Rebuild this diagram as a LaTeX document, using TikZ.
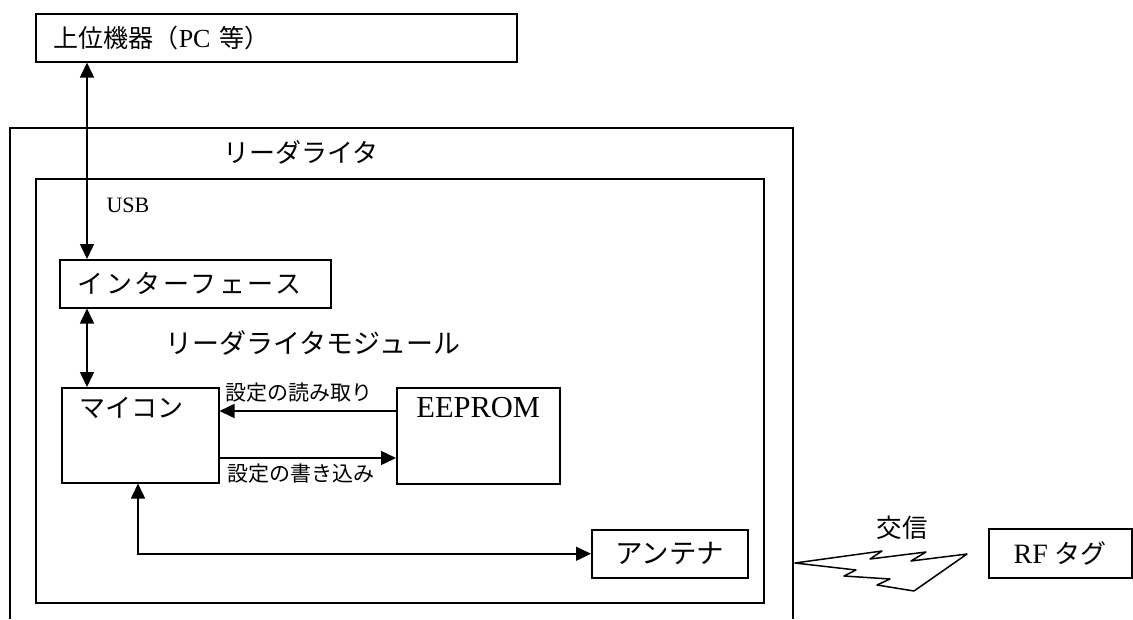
\documentclass[tikz,border=0pt]{standalone}
\usepackage{fontspec}
\setmainfont{Liberation Serif}
\newfontfamily\jp{Noto Sans CJK JP}
\usetikzlibrary{arrows.meta}

\begin{document}
\begin{tikzpicture}[
            x = 1pt, y = -1pt,
            box/.style={draw, rectangle, line width = 1.5pt, anchor = north west, inner sep = 0pt},
            line/.style={line width = 1.5pt},
            arr/.style={line, -{Triangle[length=15pt, width=14pt]}},
            biarr/.style={line, {Triangle[length=15pt, width=14pt]}-{Triangle[length=15pt, width=14pt]}},
            jfont/.style={font=\jp\fontsize{#1}{#1}\selectfont},
            lfont/.style={font=\fontsize{#1}{#1}\selectfont},
            ]
        \useasboundingbox (0,0) rectangle (1133,619);

        \node[box, minimum height=48, text width=445, inner xsep=18, align=left, lfont=26] (host) at (35,13) {{\jp\fontsize{25}{25}\selectfont 上位機器（}PC {\jp\fontsize{25}{25}\selectfont 等）}};

        \draw[line] (10,619) -- (10,128) -- (793,128) -- (793,619);
        \node[jfont=26] (rwlabel) at (301,152) {リーダライタ};
        \node[box, minimum width=728, minimum height=424] (module) at (35,178) {};
        \node[lfont=22] (usb) at (128,205) {USB};
        \node[jfont=27] (modlabel) at (313,343) {リーダライタモジュール};

        \node[box, minimum height=48, text width=235, inner xsep=18, align=left, jfont=26] (iface) at (59,259) {\addfontfeatures{LetterSpace=10}インターフェース};
        \node[box, text width=121, inner xsep=18, align=left, text height=30, text depth=65, jfont=26] (mcu) at (61,387) {マイコン};
        \node[box, minimum width=163, text height=29.5, text depth=66.5, lfont=30.5] (eeprom) at (396,387) {EEPROM};
        \node[box, minimum width=156, minimum height=48, jfont=27.5] (ant) at (591,529) {アンテナ};
        \node[box, minimum width=143, minimum height=49, lfont=28] (tag) at (988,528) {RF {\jp\fontsize{26}{26}\selectfont タグ}};

        \coordinate (usbx) at ([xshift=28pt]iface.north west);
        \draw[biarr] (usbx) -- (usbx |- host.south);
        \draw[biarr] (iface.south -| usbx) -- (mcu.north -| usbx);

        \draw[arr] ([yshift=-24pt]eeprom.north west) -- ([yshift=-24pt]mcu.north east);
        \draw[arr] ([yshift=-71pt]mcu.north east) -- ([yshift=-71pt]eeprom.north west);
        \node[jfont=21] (rdlabel) at (299,393) {設定の読み取り};
        \node[jfont=21] (wrlabel) at (301,474) {設定の書き込み};

        \draw[biarr] ([xshift=77pt]mcu.south west) |- (ant.west);

        % radio link to the tag
        \node[jfont=25.5] (comm) at (902,528) {交信};
        \draw[line, line join=round] (795,563) -- (882,551) -- (870,559) -- (926,552) -- (911,561) -- (967,554)
            -- (914,591) -- (877,585) -- (890,579) -- (844,576) -- (856,570) -- cycle;
\end{tikzpicture}
\end{document}
